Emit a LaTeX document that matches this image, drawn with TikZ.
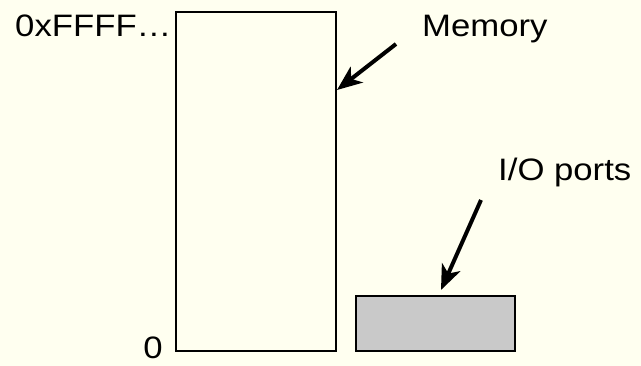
\documentclass[tikz,border=0pt]{standalone}
\usepackage{fontspec}
\setmainfont{Liberation Sans}
\usetikzlibrary{arrows.meta}
\definecolor{bgc}{HTML}{FFFFF0}
\definecolor{iogray}{HTML}{C9C9C9}
\tikzset{
  box/.style={draw=black, line width=2.8pt, inner sep=0pt},
  lbl/.style={inner sep=0pt, font=\fontsize{31}{33}\selectfont},
  ptr/.style={line width=4pt, -{Stealth[length=25pt,width=20pt,inset=7pt]}}
}
\newcommand{\wide}[1]{\scalebox{1.12}[1]{#1}}
\begin{document}
\begin{tikzpicture}[x=1pt,y=-1pt]
\fill[bgc] (0,0) rectangle (641,366);
\useasboundingbox (0,0) rectangle (641,366);
\node[box, fill=bgc, minimum width=160pt, minimum height=339pt] (mem) at (256,181.5) {};
\node[box, fill=iogray, minimum width=159pt, minimum height=55pt] (io) at (435.5,323.5) {};
\node[lbl, anchor=base west] (top) at (15,37) {\wide{0xFFFF…}};
\node[lbl, anchor=base] (zero) at (153,359) {\wide{0}};
\node[lbl, anchor=base west] (memlbl) at (422,37) {\wide{Memory}};
\node[lbl, anchor=base west] (iolbl) at (498,181) {\wide{I/O ports}};
\coordinate (ma) at (396,44);
\coordinate (mb) at (337,90);
\coordinate (ia) at (481,200);
\coordinate (ib) at (441,290);
\draw[ptr] (ma) -- (mb);
\draw[ptr] (ia) -- (ib);
\end{tikzpicture}
\end{document}
